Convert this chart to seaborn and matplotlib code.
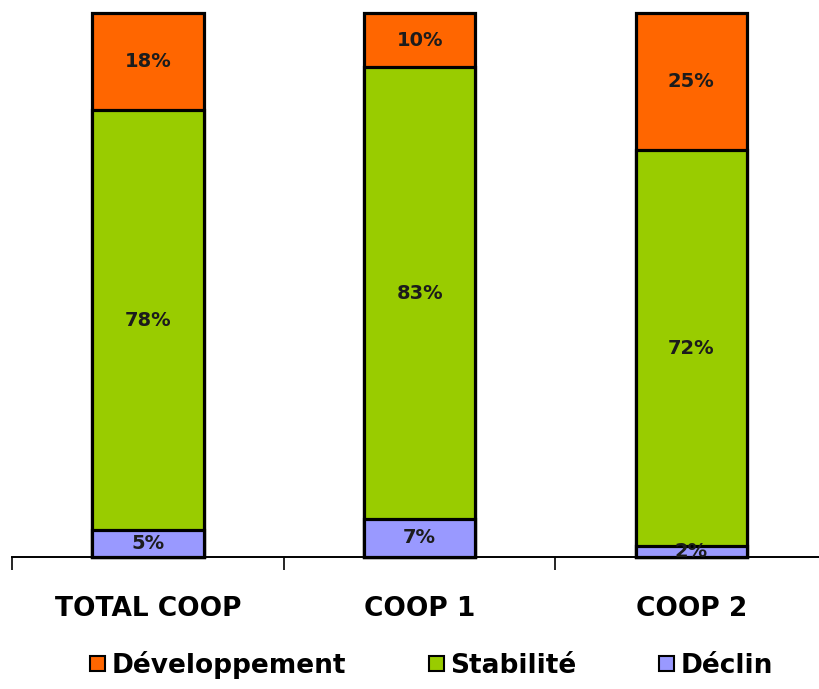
import matplotlib
matplotlib.use("Agg")
import matplotlib.pyplot as plt
import seaborn as sns
import numpy as np
import pandas as pd
from matplotlib.patches import Patch

categories = ["TOTAL COOP", "COOP 1", "COOP 2"]
developpement = [18, 10, 25]
stabilite = [78, 83, 72]
declin = [5, 7, 2]
series_names = ["Développement", "Stabilité", "Déclin"]
colors = {"Développement": "#FF6600", "Stabilité": "#99CC00", "Déclin": "#9999FF"}

sns.set_theme(style="white")
plt.rcParams["font.family"] = ["DejaVu Sans"]

dev = np.array(developpement, float)
sta = np.array(stabilite, float)
dec = np.array(declin, float)
tot = dev + sta + dec
# 100% stacked: shares
s_dec = dec / tot
s_sta = sta / tot
s_dev = dev / tot

df = pd.DataFrame({
    "cat": categories,
    "top": s_dec + s_sta + s_dev,
    "mid": s_dec + s_sta,
    "low": s_dec,
})

fig = plt.figure(figsize=(8.19, 6.89), dpi=100)
ax = fig.add_axes([12 / 819, 1 - 557 / 689, 1 - 12 / 819 + 0.01, (557 - 13) / 689])

W = 0.41
LW = 2.3
sns.barplot(data=df, x="cat", y="top", color=colors["Développement"], width=W,
            edgecolor="black", linewidth=LW, saturation=1, ax=ax, order=categories)
sns.barplot(data=df, x="cat", y="mid", color=colors["Stabilité"], width=W,
            edgecolor="black", linewidth=LW, saturation=1, ax=ax, order=categories)
sns.barplot(data=df, x="cat", y="low", color=colors["Déclin"], width=W,
            edgecolor="black", linewidth=LW, saturation=1, ax=ax, order=categories)
for p in ax.patches:
    p.set_clip_on(False)

ax.set_ylim(0, 1.0)
ax.set_xlim(-0.5, 2.5)

# labels inside segments
for i in range(len(categories)):
    centers = [s_dec[i] / 2, s_dec[i] + s_sta[i] / 2, s_dec[i] + s_sta[i] + s_dev[i] / 2]
    vals = [declin[i], stabilite[i], developpement[i]]
    for c, v in zip(centers, vals):
        ax.text(i, c, f"{v}%", ha="center", va="center", fontsize=14,
                fontweight="bold", color="#1c1c1c")

for sp in ["top", "left", "right"]:
    ax.spines[sp].set_visible(False)
ax.spines["bottom"].set_color("black")
ax.spines["bottom"].set_linewidth(1.4)
ax.set_yticks([])
ax.set_ylabel("")
ax.set_xlabel("")
ax.set_xticks(range(len(categories)))
ax.set_xticklabels(categories, fontsize=19, fontweight="bold", color="black")
ax.tick_params(axis="x", which="major", length=0, pad=28)
ax.set_xticks([-0.5, 0.5, 1.5, 2.5], minor=True)
ax.tick_params(axis="x", which="minor", length=9, width=1.2, color="black",
               direction="out", bottom=True)

handles = [Patch(facecolor=colors[n], edgecolor="black", linewidth=1.5) for n in series_names]
fig.legend(handles, series_names, loc="center", bbox_to_anchor=(0.527, 0.035),
           ncol=3, frameon=False, handlelength=0.55, handleheight=0.55,
           handletextpad=0.25, columnspacing=3.15, labelcolor="black",
           prop={"family": "DejaVu Sans", "weight": "bold", "size": 19})

fig.savefig("out.png", dpi=100)
